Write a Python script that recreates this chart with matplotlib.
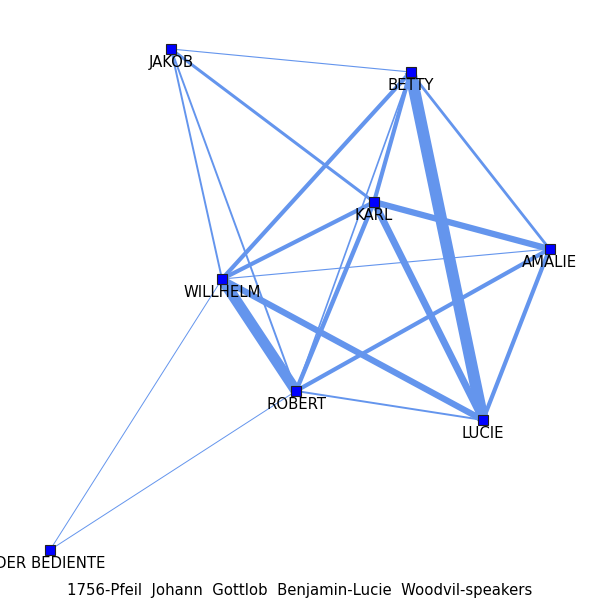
import matplotlib
matplotlib.use("Agg")
import matplotlib.pyplot as plt

# Node names and layout positions (layout units, y grows downward)
nodes = ["JAKOB", "BETTY", "KARL", "AMALIE", "WILLHELM", "ROBERT", "LUCIE", "DER BEDIENTE"]
node_x = [171, 410.5, 374, 549.5, 222, 296, 483, 50]
node_y = [49, 72, 202, 249, 279, 391, 420, 550]

# Edges: source, target, weight (line width in points)
edge_src = ["JAKOB", "JAKOB", "JAKOB", "JAKOB", "BETTY", "BETTY", "BETTY", "BETTY", "BETTY",
            "KARL", "KARL", "KARL", "KARL", "WILLHELM", "WILLHELM", "WILLHELM", "WILLHELM",
            "ROBERT", "ROBERT", "ROBERT", "AMALIE"]
edge_dst = ["BETTY", "KARL", "WILLHELM", "ROBERT", "LUCIE", "KARL", "ROBERT", "WILLHELM", "AMALIE",
            "AMALIE", "LUCIE", "WILLHELM", "ROBERT", "ROBERT", "LUCIE", "AMALIE", "DER BEDIENTE",
            "AMALIE", "LUCIE", "DER BEDIENTE", "LUCIE"]
edge_w = [0.8, 2.2, 1.4, 1.4, 8.5, 3.0, 1.2, 3.0, 2.0,
          4.5, 5.0, 3.0, 3.2, 7.8, 4.5, 0.8, 0.7,
          3.0, 1.4, 0.7, 3.0]

title = "1756-Pfeil  Johann  Gottlob  Benjamin-Lucie  Woodvil-speakers"

fig = plt.figure(figsize=(6, 6), dpi=100)
ax = fig.add_axes([0, 0, 1, 1])
ax.set_xlim(0, 600)
ax.set_ylim(600, 0)
ax.axis("off")

pos = {n: (x, y) for n, x, y in zip(nodes, node_x, node_y)}
for s, d, w in zip(edge_src, edge_dst, edge_w):
    ax.plot([pos[s][0], pos[d][0]], [pos[s][1], pos[d][1]], color="#6495ED",
            linewidth=w, solid_capstyle="butt", zorder=1)

ax.plot(node_x, node_y, linestyle="none", marker="s", markersize=6.8,
        markerfacecolor="#0000FF", markeredgecolor="#222222", markeredgewidth=0.8, zorder=3)

for n, x, y in zip(nodes, node_x, node_y):
    ax.annotate(n, (x, y), xytext=(0, -10), textcoords="offset points",
                ha="center", va="center", fontsize=10.7, color="black", zorder=4)

fig.text(0.5, 0.015, title, ha="center", va="center", fontsize=10.7)

fig.savefig("out.png", dpi=100)
